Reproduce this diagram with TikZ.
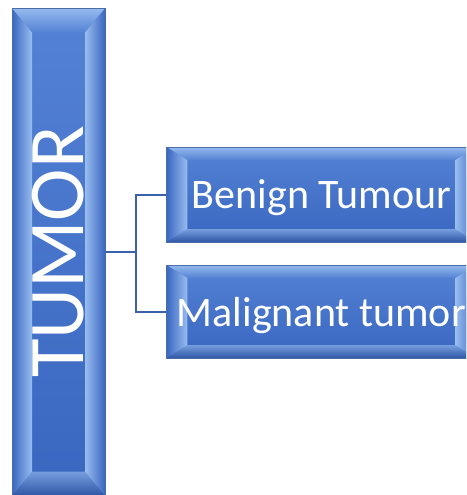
\documentclass[tikz,border=0pt]{standalone}
\usepackage{fontspec}
\setmainfont{Carlito}
\usepackage{graphicx}
\usetikzlibrary{calc,positioning}
\definecolor{boxtop}{HTML}{5482D4}
\definecolor{boxbot}{HTML}{3966C0}
\definecolor{boxline}{HTML}{4A6FA8}
\definecolor{bevlight}{HTML}{A9CCF6}
\definecolor{bevdark}{HTML}{2E57A6}
\definecolor{linkblue}{HTML}{3B62A8}

\tikzset{
  bevelbox/.style 2 args={rectangle, draw=boxline, line width=0.7pt,
    top color=boxtop, bottom color=boxbot, text=white, inner sep=0pt,
    text depth=0pt,
    path picture={
      \coordinate (bnw) at (path picture bounding box.north west);
      \coordinate (bne) at (path picture bounding box.north east);
      \coordinate (bsw) at (path picture bounding box.south west);
      \coordinate (bse) at (path picture bounding box.south east);
      % top and bottom bevel
      \shade[top color=bevlight!75!boxtop, bottom color=boxtop]
        (bnw) -- (bne) -- ($(bne)+(-#1,-#2)$) -- ($(bnw)+(#1,-#2)$) -- cycle;
      \shade[top color=bevlight!55!boxbot, bottom color=bevdark]
        (bsw) -- ($(bsw)+(#1,#2)$) -- ($(bse)+(-#1,#2)$) -- (bse) -- cycle;
      % side bevels
      \shade[left color=boxbot, middle color=boxtop, right color=bevlight!80!boxtop]
        (bnw) -- ($(bnw)+(#1,-#2)$) -- ($(bsw)+(#1,#2)$) -- (bsw) -- cycle;
      \shade[left color=bevlight!80!boxtop, middle color=boxtop, right color=boxbot]
        (bne) -- ($(bne)+(-#1,-#2)$) -- ($(bse)+(-#1,#2)$) -- (bse) -- cycle;
    }},
  link/.style={draw=linkblue, line width=2pt}
}

\begin{document}
\begin{tikzpicture}[x=1pt,y=-1pt]
  \useasboundingbox (0,0) rectangle (466,495);
  \clip (0,0) rectangle (466,495);
  \fill[white] (0,0) rectangle (466,495);

  \node[bevelbox={20pt}{24pt}, minimum width=93pt, minimum height=487pt] (tumor) at (58.5,252)
    {\rotatebox{90}{\fontsize{79}{84}\selectfont TUMOR}};
  \node[bevelbox={21pt}{13pt}, minimum width=310pt, minimum height=95pt, anchor=west,
    font=\fontsize{42}{50}\selectfont] (benign) at (166,194.5) {Benign Tumour};
  \node[bevelbox={21pt}{13pt}, minimum width=310pt, minimum height=93pt, anchor=west,
    font=\fontsize{42}{50}\selectfont] (malignant) at (166,311.5) {Malignant tumor};

  \draw[link] (tumor.east) -- ++(31pt,0) |- (benign.west);
  \draw[link] (tumor.east) -- ++(31pt,0) |- (malignant.west);
\end{tikzpicture}
\end{document}
